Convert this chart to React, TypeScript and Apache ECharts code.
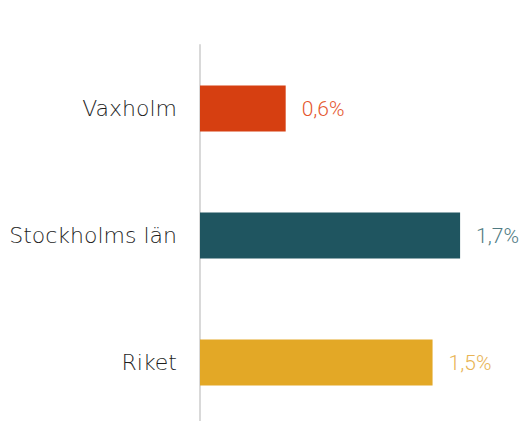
import React, { useEffect, useRef } from "react";
import * as echarts from "echarts";

const categories = ["Vaxholm", "Stockholms län", "Riket"];
const values = [0.56, 1.7, 1.52];
const barColors = ["#d63f11", "#1f5560", "#e3a826"];
const labelColors = ["#e5572f", "#4f7a82", "#e8b454"];

export default function App() {
  const ref = useRef<HTMLDivElement>(null);
  useEffect(() => {
    const chart = echarts.init(ref.current!, null, { renderer: "svg" });
    chart.setOption({
      animation: false,
      grid: { left: 200, right: 13, top: 45, bottom: 0, containLabel: false },
      xAxis: {
        type: "value",
        min: 0,
        max: 2,
        show: false,
      },
      yAxis: {
        type: "category",
        data: categories,
        inverse: true,
        axisLine: { show: true, lineStyle: { color: "#d9d9d9", width: 2 } },
        axisTick: { show: false },
        axisLabel: {
          color: "#1e1e1e",
          fontSize: 22,
          fontFamily: "DejaVu Sans",
          fontWeight: 200,
          margin: 23,
        },
      },
      series: [
        {
          type: "bar",
          barWidth: 46,
          data: values.map((v, i) => ({
            value: v,
            itemStyle: { color: barColors[i] },
            label: { color: labelColors[i] },
          })),
          label: {
            show: true,
            position: "right",
            distance: 16,
            fontSize: 21,
            fontFamily: "Roboto",
            fontWeight: 300,
            formatter: (p: any) => p.value.toFixed(1).replace(".", ",") + "%",
          },
        },
      ],
    });
    return () => chart.dispose();
  }, []);
  return (
    <div
      style={{
        position: "absolute",
        left: 0,
        top: 0,
        width: 519,
        height: 421,
        overflow: "hidden",
      }}
    >
      <div ref={ref} style={{ width: 519, height: 426 }} />
    </div>
  );
}
